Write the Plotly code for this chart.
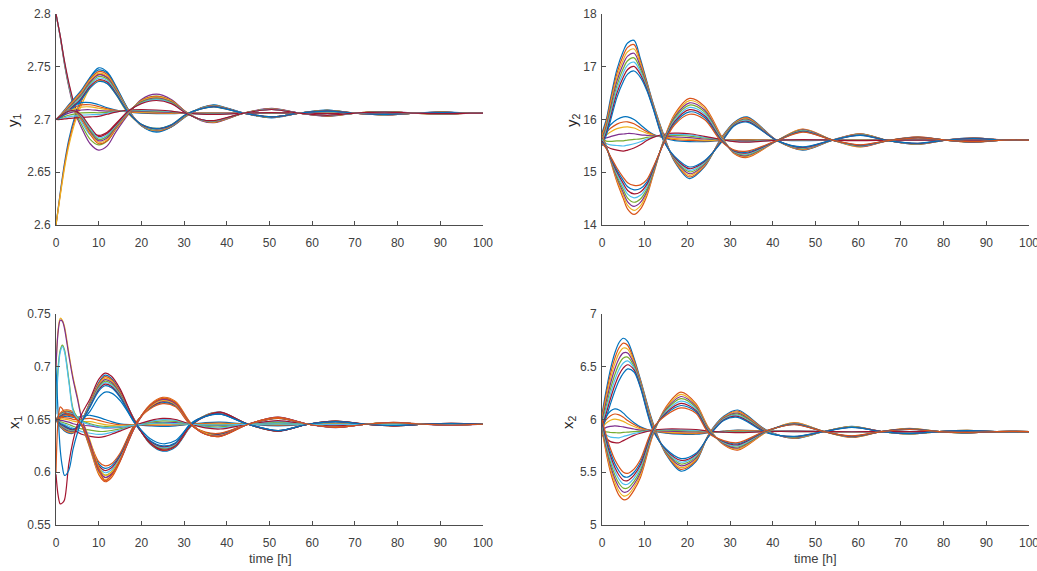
import plotly.graph_objects as go

# MATLAB default line colour order
COLORS = ["#0072BD", "#D95319", "#EDB120", "#7E2F8E", "#77AC30", "#4DBEEE", "#A2142F"]

# ---------------- y1 (top-left) ----------------
T_Y1 = [0, 1, 2, 3, 4.5, 6, 8, 10, 12, 14, 17, 20, 23.5, 27, 30.5, 34, 37, 44, 50.5, 57, 63.5, 70, 77, 84, 90.5, 97, 100]
Y1_U6_A = [2.600, 2.631, 2.659, 2.681, 2.704, 2.721, 2.740, 2.749, 2.745, 2.732, 2.709, 2.694, 2.688, 2.693, 2.704, 2.711, 2.714, 2.706, 2.7015, 2.706, 2.709, 2.706, 2.7043, 2.706, 2.7072, 2.706, 2.706]
Y1_U6_B = [2.600, 2.628, 2.654, 2.675, 2.698, 2.714, 2.730, 2.737, 2.734, 2.724, 2.705, 2.6955, 2.6915, 2.695, 2.705, 2.710, 2.712, 2.706, 2.7025, 2.706, 2.708, 2.706, 2.7048, 2.706, 2.7066, 2.706, 2.706]
Y1_U7_A = [2.700, 2.704, 2.709, 2.714, 2.721, 2.728, 2.740, 2.747, 2.744, 2.731, 2.709, 2.694, 2.689, 2.693, 2.703, 2.711, 2.7135, 2.706, 2.702, 2.706, 2.7088, 2.706, 2.7045, 2.706, 2.707, 2.706, 2.706]
Y1_U7_B = [2.700, 2.702, 2.705, 2.708, 2.713, 2.719, 2.730, 2.736, 2.734, 2.724, 2.706, 2.6955, 2.6915, 2.695, 2.705, 2.710, 2.712, 2.706, 2.7025, 2.706, 2.708, 2.706, 2.7048, 2.706, 2.7065, 2.706, 2.706]
Y1_L8_A = [2.800, 2.778, 2.752, 2.731, 2.706, 2.692, 2.677, 2.671, 2.675, 2.688, 2.705, 2.719, 2.724, 2.719, 2.707, 2.699, 2.697, 2.706, 2.7105, 2.706, 2.703, 2.706, 2.7076, 2.706, 2.705, 2.706, 2.706]
Y1_L8_B = [2.800, 2.779, 2.755, 2.735, 2.712, 2.700, 2.689, 2.685, 2.688, 2.696, 2.708, 2.716, 2.719, 2.716, 2.706, 2.700, 2.6985, 2.706, 2.7095, 2.706, 2.704, 2.706, 2.7072, 2.706, 2.7054, 2.706, 2.706]
Y1_L7_A = [2.700, 2.704, 2.707, 2.709, 2.707, 2.700, 2.686, 2.677, 2.680, 2.691, 2.706, 2.718, 2.722, 2.718, 2.707, 2.6995, 2.6975, 2.706, 2.710, 2.706, 2.7035, 2.706, 2.7074, 2.706, 2.7052, 2.706, 2.706]
Y1_L7_B = [2.700, 2.703, 2.706, 2.708, 2.708, 2.704, 2.693, 2.684, 2.687, 2.695, 2.708, 2.715, 2.718, 2.715, 2.706, 2.700, 2.699, 2.706, 2.7095, 2.706, 2.704, 2.706, 2.707, 2.706, 2.7055, 2.706, 2.706]
Y1_M_A = [2.700, 2.704, 2.708, 2.711, 2.714, 2.716, 2.716, 2.714, 2.711, 2.709, 2.707, 2.706, 2.7055, 2.7055, 2.706, 2.7062, 2.7063, 2.706, 2.7058, 2.706, 2.7061, 2.706, 2.706, 2.706, 2.706, 2.706, 2.706]
Y1_M_B = [2.700, 2.700, 2.7005, 2.701, 2.7015, 2.702, 2.7025, 2.703, 2.705, 2.707, 2.709, 2.7095, 2.709, 2.708, 2.706, 2.705, 2.7048, 2.706, 2.7065, 2.706, 2.7057, 2.706, 2.7062, 2.706, 2.706, 2.706, 2.706]

# ---------------- y2 (top-right) ----------------
T_Y2 = [0, 1, 2, 3.5, 5, 6, 7.5, 9, 10.5, 12, 14.5, 17, 20.5, 24, 28, 31, 34, 41, 47, 54, 60.5, 67, 74, 80.5, 87, 94, 100]
Y2_U_A = [15.75, 16.0, 16.4, 16.95, 17.3, 17.45, 17.5, 17.15, 16.72, 16.3, 15.7, 15.2, 14.88, 15.1, 15.66, 15.95, 16.05, 15.6, 15.42, 15.61, 15.73, 15.6, 15.53, 15.61, 15.65, 15.61, 15.61]
Y2_U_B = [15.5, 15.7, 15.98, 16.42, 16.72, 16.86, 16.92, 16.8, 16.55, 16.2, 15.58, 15.3, 15.1, 15.22, 15.57, 15.88, 15.95, 15.6, 15.48, 15.61, 15.7, 15.6, 15.55, 15.61, 15.64, 15.61, 15.61]
Y2_L_A = [15.7, 15.5, 15.22, 14.82, 14.5, 14.3, 14.2, 14.3, 14.55, 14.95, 15.62, 16.1, 16.4, 16.25, 15.68, 15.35, 15.28, 15.6, 15.82, 15.61, 15.48, 15.6, 15.67, 15.61, 15.57, 15.61, 15.61]
Y2_L_B = [15.55, 15.45, 15.3, 15.08, 14.9, 14.8, 14.75, 14.76, 14.86, 15.1, 15.55, 15.9, 16.1, 16.0, 15.58, 15.42, 15.4, 15.6, 15.76, 15.61, 15.52, 15.6, 15.65, 15.61, 15.58, 15.61, 15.61]
Y2_M_A = [15.7, 15.8, 15.9, 16.0, 16.05, 16.05, 16.0, 15.9, 15.8, 15.72, 15.65, 15.6, 15.58, 15.58, 15.6, 15.62, 15.62, 15.61, 15.6, 15.61, 15.61, 15.61, 15.61, 15.61, 15.61, 15.61, 15.61]
Y2_M_B = [15.6, 15.5, 15.45, 15.42, 15.4, 15.42, 15.46, 15.52, 15.6, 15.66, 15.72, 15.74, 15.73, 15.68, 15.62, 15.58, 15.57, 15.61, 15.62, 15.61, 15.6, 15.61, 15.61, 15.61, 15.61, 15.61, 15.61]

# ---------------- x1 (bottom-left) ----------------
T_X1 = [0, 0.5, 1, 1.5, 2, 3, 4, 5, 6, 8, 10, 11.5, 13, 15, 18.5, 22, 25, 28, 31.5, 35, 38.5, 45, 52, 59, 65.5, 72.5, 79, 86, 92.5, 100]
X1_SPK_A = [0.700, 0.735, 0.746, 0.744, 0.738, 0.713, 0.690, 0.672, 0.652, 0.630, 0.605, 0.597, 0.600, 0.612, 0.643, 0.662, 0.668, 0.664, 0.646, 0.637, 0.635, 0.6455, 0.652, 0.6455, 0.6425, 0.6455, 0.6473, 0.6455, 0.6447, 0.6455]
X1_SPK_B = [0.700, 0.733, 0.744, 0.743, 0.736, 0.711, 0.688, 0.670, 0.651, 0.628, 0.603, 0.595, 0.598, 0.611, 0.643, 0.663, 0.669, 0.665, 0.646, 0.636, 0.6345, 0.6455, 0.6522, 0.6455, 0.6423, 0.6455, 0.6474, 0.6455, 0.6446, 0.6455]
X1_BLU_A = [0.660, 0.700, 0.716, 0.7205, 0.716, 0.688, 0.660, 0.652, 0.649, 0.646, 0.644, 0.6435, 0.643, 0.6432, 0.6445, 0.646, 0.6465, 0.646, 0.6455, 0.645, 0.645, 0.6455, 0.6458, 0.6455, 0.6454, 0.6455, 0.6455, 0.6455, 0.6455, 0.6455]
X1_BLU_B = [0.655, 0.695, 0.714, 0.719, 0.714, 0.686, 0.658, 0.651, 0.648, 0.645, 0.643, 0.642, 0.6425, 0.643, 0.6445, 0.6462, 0.6467, 0.646, 0.6455, 0.6449, 0.6448, 0.6455, 0.6459, 0.6455, 0.6453, 0.6455, 0.6456, 0.6455, 0.6455, 0.6455]
X1_DIP_O = [0.598, 0.578, 0.570, 0.571, 0.574, 0.608, 0.630, 0.645, 0.655, 0.670, 0.688, 0.694, 0.691, 0.679, 0.648, 0.628, 0.621, 0.625, 0.644, 0.653, 0.657, 0.6455, 0.639, 0.6455, 0.6485, 0.6455, 0.644, 0.6455, 0.6463, 0.6455]
X1_DIP_G = [0.700, 0.655, 0.621, 0.605, 0.597, 0.602, 0.622, 0.637, 0.648, 0.658, 0.671, 0.676, 0.675, 0.668, 0.647, 0.632, 0.627, 0.630, 0.645, 0.653, 0.655, 0.6455, 0.6395, 0.6455, 0.648, 0.6455, 0.6443, 0.6455, 0.646, 0.6455]
X1_CYAN = [0.600, 0.650, 0.662, 0.660, 0.657, 0.655, 0.653, 0.649, 0.645, 0.625, 0.603, 0.592, 0.597, 0.611, 0.644, 0.663, 0.670, 0.666, 0.646, 0.636, 0.634, 0.6455, 0.652, 0.6455, 0.6425, 0.6455, 0.647, 0.6455, 0.6448, 0.6455]
X1_U_A = [0.650, 0.646, 0.643, 0.641, 0.639, 0.637, 0.637, 0.641, 0.648, 0.667, 0.685, 0.692, 0.689, 0.677, 0.649, 0.627, 0.620, 0.624, 0.643, 0.654, 0.657, 0.6455, 0.639, 0.6455, 0.6485, 0.6455, 0.644, 0.6455, 0.6463, 0.6455]
X1_U_B = [0.650, 0.648, 0.646, 0.645, 0.644, 0.642, 0.641, 0.643, 0.648, 0.662, 0.677, 0.682, 0.680, 0.671, 0.646, 0.630, 0.625, 0.628, 0.646, 0.653, 0.655, 0.6455, 0.6395, 0.6455, 0.648, 0.6455, 0.6443, 0.6455, 0.646, 0.6455]
X1_L_A = [0.650, 0.653, 0.656, 0.658, 0.659, 0.659, 0.657, 0.652, 0.645, 0.622, 0.598, 0.591, 0.595, 0.610, 0.643, 0.664, 0.671, 0.667, 0.647, 0.636, 0.634, 0.6455, 0.652, 0.6455, 0.6425, 0.6455, 0.647, 0.6455, 0.6448, 0.6455]
X1_L_B = [0.650, 0.651, 0.652, 0.653, 0.654, 0.654, 0.653, 0.650, 0.645, 0.628, 0.610, 0.606, 0.608, 0.618, 0.646, 0.660, 0.665, 0.662, 0.645, 0.638, 0.637, 0.6455, 0.651, 0.6455, 0.643, 0.6455, 0.647, 0.6455, 0.6448, 0.6455]
X1_M_A = [0.650, 0.651, 0.652, 0.653, 0.653, 0.653, 0.652, 0.652, 0.653, 0.654, 0.652, 0.650, 0.648, 0.646, 0.645, 0.644, 0.6435, 0.644, 0.6455, 0.647, 0.6475, 0.6455, 0.644, 0.6455, 0.6465, 0.6455, 0.645, 0.6455, 0.6457, 0.6455]
X1_M_B = [0.650, 0.648, 0.646, 0.645, 0.644, 0.642, 0.640, 0.638, 0.636, 0.634, 0.633, 0.634, 0.636, 0.639, 0.6445, 0.649, 0.651, 0.650, 0.6455, 0.642, 0.641, 0.6455, 0.649, 0.6455, 0.644, 0.6455, 0.6463, 0.6455, 0.645, 0.6455]

# ---------------- x2 (bottom-right) ----------------
T_X2 = [0, 1, 2, 3, 4, 5, 6, 7.5, 9, 12, 15, 18.5, 22, 25, 28.5, 31.8, 38.5, 45, 52, 58.5, 65.5, 72, 79, 85.5, 92.5, 100]
X2_U_A = [6.05, 6.28, 6.48, 6.63, 6.73, 6.77, 6.74, 6.58, 6.38, 5.96, 5.67, 5.51, 5.6, 5.86, 6.03, 6.09, 5.9, 5.82, 5.886, 5.935, 5.886, 5.862, 5.886, 5.897, 5.886, 5.886]
X2_U_B = [5.9, 6.02, 6.15, 6.27, 6.37, 6.44, 6.48, 6.45, 6.3, 5.89, 5.72, 5.63, 5.68, 5.84, 5.99, 6.02, 5.875, 5.84, 5.886, 5.925, 5.886, 5.868, 5.886, 5.894, 5.886, 5.886]
X2_L_A = [5.9, 5.68, 5.5, 5.37, 5.28, 5.24, 5.25, 5.33, 5.45, 5.86, 6.12, 6.26, 6.15, 5.92, 5.76, 5.71, 5.88, 5.97, 5.886, 5.83, 5.886, 5.915, 5.886, 5.872, 5.886, 5.886]
X2_L_B = [6.0, 5.85, 5.72, 5.62, 5.55, 5.5, 5.49, 5.53, 5.62, 5.92, 6.04, 6.11, 6.06, 5.87, 5.8, 5.78, 5.895, 5.95, 5.886, 5.845, 5.886, 5.905, 5.886, 5.877, 5.886, 5.886]
X2_M_A = [5.95, 6.03, 6.08, 6.1, 6.09, 6.06, 6.02, 5.97, 5.93, 5.89, 5.87, 5.86, 5.86, 5.875, 5.89, 5.9, 5.89, 5.885, 5.886, 5.886, 5.886, 5.886, 5.886, 5.886, 5.886, 5.886]
X2_M_B = [5.85, 5.82, 5.79, 5.78, 5.78, 5.8, 5.82, 5.85, 5.87, 5.9, 5.91, 5.91, 5.905, 5.89, 5.88, 5.875, 5.886, 5.89, 5.886, 5.884, 5.886, 5.886, 5.886, 5.886, 5.886, 5.886]

# member positions inside each band (0 = edge A, 1 = edge B)
W2 = [0, 1]
W3 = [0, 0.5, 1]
W4 = [0, 0.35, 0.7, 1]
W6 = [0, 0.2, 0.4, 0.6, 0.8, 1]
W7 = [0, 0.15, 0.3, 0.5, 0.7, 0.85, 1]
W8 = [0, 0.14, 0.28, 0.42, 0.57, 0.71, 0.85, 1]

PANELS = [
    ("x", "y", T_Y1, [(Y1_U6_A, Y1_U6_B, W3), (Y1_L8_A, Y1_L8_B, W4), (Y1_M_A, Y1_M_B, W7),
                      (Y1_U7_A, Y1_U7_B, W8), (Y1_L7_A, Y1_L7_B, W6)]),
    ("x2", "y2", T_Y2, [(Y2_M_A, Y2_M_B, W7), (Y2_U_A, Y2_U_B, W8), (Y2_L_A, Y2_L_B, W8)]),
    ("x3", "y3", T_X1, [(X1_M_A, X1_M_B, W7), (X1_U_A, X1_U_B, W8), (X1_L_A, X1_L_B, W8),
                        (X1_SPK_A, X1_SPK_B, W2), (X1_BLU_A, X1_BLU_B, W2),
                        (X1_DIP_O, X1_DIP_O, [0]), (X1_DIP_G, X1_DIP_G, [0]), (X1_CYAN, X1_CYAN, [0])]),
    ("x4", "y4", T_X2, [(X2_M_A, X2_M_B, W7), (X2_U_A, X2_U_B, W8), (X2_L_A, X2_L_B, W8)]),
]

fig = go.Figure()
for xa, ya, t, groups in PANELS:
    k = 0
    for a, b, ws in groups:
        for w in ws:
            vals = [ai + w * (bi - ai) for ai, bi in zip(a, b)]
            fig.add_trace(go.Scatter(
                x=t, y=vals, mode="lines", xaxis=xa, yaxis=ya,
                line=dict(color=COLORS[k % 7], width=1.2, shape="spline", smoothing=0.9),
                showlegend=False, hoverinfo="skip"))
            k += 1

TICKFONT = dict(family="Liberation Sans, Arial, sans-serif", size=12, color="#404040")
X_TICKS = [0, 10, 20, 30, 40, 50, 60, 70, 80, 90, 100]


def xaxis(domain, anchor):
    return dict(domain=domain, anchor=anchor, range=[0, 100], tickvals=X_TICKS,
                showline=True, linecolor="#4d4d4d", linewidth=1, ticks="inside", ticklen=4,
                tickcolor="#4d4d4d", tickfont=TICKFONT, ticklabelstandoff=7,
                ticklabeloverflow="allow",
                showgrid=False, zeroline=False, fixedrange=True, automargin=False)


def yaxis(domain, anchor, rng, vals, text):
    return dict(domain=domain, anchor=anchor, range=rng, tickvals=vals, ticktext=text,
                showline=True, linecolor="#4d4d4d", linewidth=1, ticks="inside", ticklen=4,
                tickcolor="#4d4d4d", tickfont=TICKFONT, ticklabelstandoff=2,
                ticklabeloverflow="allow",
                showgrid=False, zeroline=False, fixedrange=True, automargin=False)


W, H = 1037, 571
XL = [56 / W, 483 / W]
XR = [602 / W, 1029 / W]
YT = [1 - 225 / H, 1 - 14 / H]
YB = [1 - 525 / H, 1 - 314 / H]

fig.update_layout(
    width=W, height=H, autosize=False,
    margin=dict(l=0, r=0, t=0, b=0, autoexpand=False),
    paper_bgcolor="white", plot_bgcolor="white",
    xaxis=xaxis(XL, "y"),
    yaxis=yaxis(YT, "x", [2.6, 2.8], [2.6, 2.65, 2.7, 2.75, 2.8], ["2.6", "2.65", "2.7", "2.75", "2.8"]),
    xaxis2=xaxis(XR, "y2"),
    yaxis2=yaxis(YT, "x2", [14, 18], [14, 15, 16, 17, 18], ["14", "15", "16", "17", "18"]),
    xaxis3=xaxis(XL, "y3"),
    yaxis3=yaxis(YB, "x3", [0.55, 0.75], [0.55, 0.6, 0.65, 0.7, 0.75], ["0.55", "0.6", "0.65", "0.7", "0.75"]),
    xaxis4=xaxis(XR, "y4"),
    yaxis4=yaxis(YB, "x4", [5, 7], [5, 5.5, 6, 6.5, 7], ["5", "5.5", "6", "6.5", "7"]),
)

LABELFONT = dict(family="Liberation Sans, Arial, sans-serif", size=15, color="#262626")
ann = [
    ("y<sub>1</sub>", 14, 120, -90),
    ("y<sub>2</sub>", 573, 120, -90),
    ("x<sub>1</sub>", 14, 422, -90),
    ("x<sub>2</sub>", 568, 422, -90),
]
for txt, px, py, ang in ann:
    fig.add_annotation(text=txt, x=px / W, y=1 - py / H, xref="paper", yref="paper",
                       showarrow=False, textangle=ang, font=LABELFONT,
                       xanchor="center", yanchor="middle")
for px in (270, 815):
    fig.add_annotation(text="time [h]", x=px / W, y=1 - 558 / H, xref="paper", yref="paper",
                       showarrow=False, font=dict(family="Liberation Sans, Arial, sans-serif", size=13, color="#404040"),
                       xanchor="center", yanchor="middle")

fig.write_html("out.html", config={"displayModeBar": False},
               post_script="document.body.style.margin='0';document.body.style.overflow='hidden';")
